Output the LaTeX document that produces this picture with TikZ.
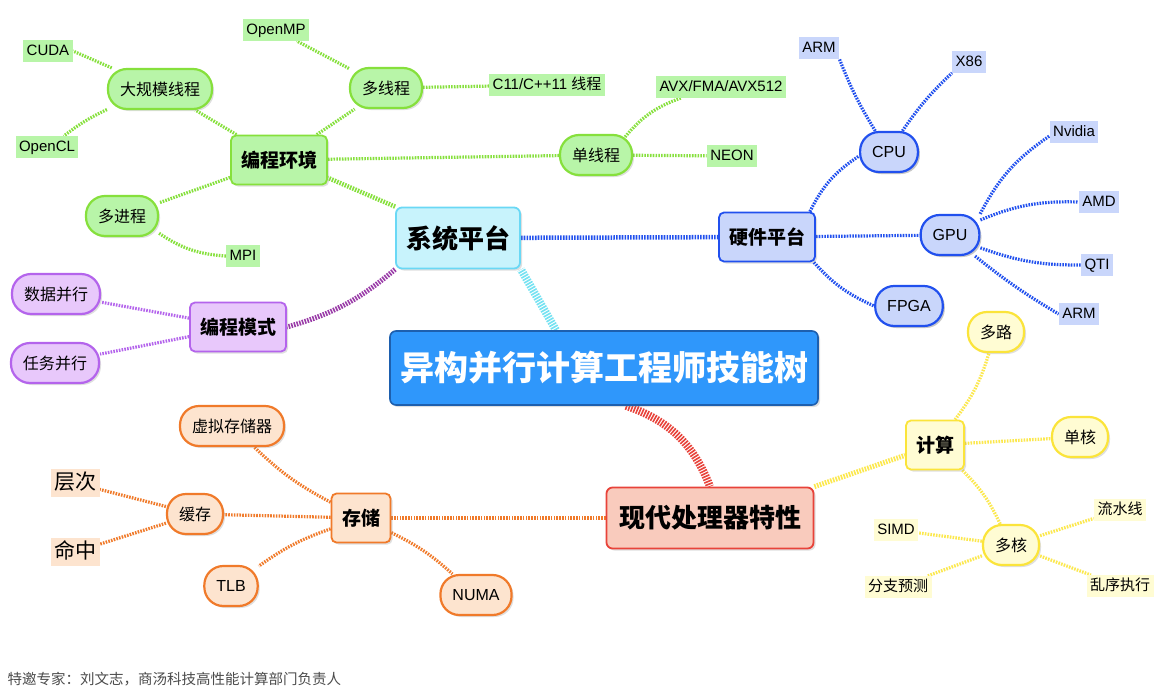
\documentclass[tikz,border=0pt]{standalone}
\usepackage{fontspec}
\setmainfont{Liberation Sans}
\newfontfamily\cjk{Noto Sans CJK SC}
\usepackage{tikz}
\usetikzlibrary{positioning,backgrounds,shadows}

\definecolor{rootfill}{HTML}{2F97FB}
\definecolor{rootline}{HTML}{1D5FAE}
\definecolor{cyanfill}{HTML}{C8F3FC}
\definecolor{cyanline}{HTML}{6AD8F5}
\definecolor{cyanlink}{HTML}{74E2F2}
\definecolor{redfill}{HTML}{F9CBBD}
\definecolor{redline}{HTML}{E8433A}
\definecolor{grnfill}{HTML}{B8F5A8}
\definecolor{grnline}{HTML}{86E03C}
\definecolor{blufill}{HTML}{C9D6FB}
\definecolor{bluline}{HTML}{2150EE}
\definecolor{purfill}{HTML}{E8C8FB}
\definecolor{purline}{HTML}{B464EC}
\definecolor{purlink}{HTML}{9A3CA8}
\definecolor{orgfill}{HTML}{FDE4CF}
\definecolor{orgline}{HTML}{F07A2A}
\definecolor{yelfill}{HTML}{FFFCD3}
\definecolor{yelline}{HTML}{FBE43A}
\definecolor{yellink}{HTML}{FCE84E}

\begin{document}
\begin{tikzpicture}[x=1pt, y=-1pt,
  shade/.style={drop shadow={opacity=0.25, shadow xshift=2pt, shadow yshift=-2pt}},
  root/.style={shade, fill=rootfill, draw=rootline, line width=1.6pt, rounded corners=6pt,
    minimum width=428pt, minimum height=74pt, text=white,
    font=\cjk\bfseries\fontsize{34}{40}\selectfont},
  mainbox/.style={shade, line width=1.8pt, rounded corners=6pt, minimum width=124pt,
    minimum height=61pt, font=\cjk\bfseries\fontsize{26}{30}\selectfont},
  subbox/.style={shade, line width=1.8pt, rounded corners=5pt, minimum width=96pt,
    minimum height=49pt, font=\cjk\bfseries\fontsize{19}{22}\selectfont},
  pill/.style={shade, line width=2.2pt, rounded corners=19pt, minimum height=40pt,
    inner xsep=12pt, font=\cjk\fontsize{16}{18}\selectfont},
  lpill/.style={pill, font=\fontsize{16}{18}\selectfont},
  bpill/.style={pill, fill=blufill, draw=bluline, minimum height=37pt, rounded corners=17pt},
  tag/.style={inner xsep=3.5pt, inner ysep=4pt, text height=11pt, text depth=2.5pt,
    font=\fontsize{15}{17}\selectfont},
  ctag/.style={tag, text height=12pt, text depth=2.5pt, inner ysep=3.5pt,
    font=\cjk\fontsize{15}{17}\selectfont},
  bigtag/.style={ctag, text height=16pt, text depth=4pt, inner ysep=4pt,
    font=\cjk\fontsize{21}{24}\selectfont},
  link/.style={line width=#1, dash pattern=on 1.6pt off 1.2pt},
  link/.default=3.2pt
]

\useasboundingbox (0,0) rectangle (1169,696);

% Centre
\node[root] (root) at (604,368) {异构并行计算工程师技能树};
\node[mainbox, fill=cyanfill, draw=cyanline] (sys) at (458,238) {系统平台};
\node[mainbox, fill=redfill, draw=redline, minimum width=207pt] (cpuf) at (710,518) {现代处理器特性};

% Second level
\node[subbox, fill=grnfill, draw=grnline] (env) at (279,160) {编程环境};
\node[subbox, fill=blufill, draw=bluline] (hw) at (767,237) {硬件平台};
\node[subbox, fill=purfill, draw=purline] (mode) at (238,327) {编程模式};
\node[subbox, fill=orgfill, draw=orgline, minimum width=59pt] (mem) at (361,518) {存储};
\node[subbox, fill=yelfill, draw=yelline, minimum width=58pt] (comp) at (935,445) {计算};

% Programming environment
\node[pill, fill=grnfill, draw=grnline] (big) at (160,89) {大规模线程};
\node[pill, fill=grnfill, draw=grnline] (mt) at (386,88) {多线程};
\node[pill, fill=grnfill, draw=grnline] (st) at (596,155) {单线程};
\node[pill, fill=grnfill, draw=grnline] (mp) at (122,216) {多进程};
\node[tag, fill=grnfill] (cuda) at (48,51) {CUDA};
\node[tag, fill=grnfill] (opencl) at (47,147) {OpenCL};
\node[tag, fill=grnfill] (openmp) at (276,30) {OpenMP};
\node[tag, fill=grnfill] (c11) at (547,85) {C11/C++11 {\cjk 线程}};
\node[tag, fill=grnfill] (avx) at (721,87) {AVX/FMA/AVX512};
\node[tag, fill=grnfill] (neon) at (732,156) {NEON};
\node[tag, fill=grnfill] (mpi) at (243,256) {MPI};

% Hardware
\node[bpill, lpill] (cpu) at (889,152) {CPU};
\node[bpill, lpill] (gpu) at (950,235) {GPU};
\node[bpill, lpill] (fpga) at (909,306) {FPGA};
\node[tag, fill=blufill] (arma) at (819,48) {ARM};
\node[tag, fill=blufill] (x86) at (969,62) {X86};
\node[tag, fill=blufill] (nvidia) at (1074,132) {Nvidia};
\node[tag, fill=blufill] (amd) at (1099,202) {AMD};
\node[tag, fill=blufill] (qti) at (1097,265) {QTI};
\node[tag, fill=blufill] (armb) at (1079,314) {ARM};

% Programming model
\node[pill, fill=purfill, draw=purline] (data) at (56,294) {数据并行};
\node[pill, fill=purfill, draw=purline] (task) at (55,363) {任务并行};

% Memory
\node[pill, fill=orgfill, draw=orgline] (vm) at (232,426) {虚拟存储器};
\node[pill, fill=orgfill, draw=orgline] (cache) at (195,514) {缓存};
\node[lpill, fill=orgfill, draw=orgline] (tlb) at (231,586) {TLB};
\node[lpill, fill=orgfill, draw=orgline] (numa) at (476,595) {NUMA};
\node[bigtag, fill=orgfill] (lvl) at (75,483) {层次};
\node[bigtag, fill=orgfill] (hit) at (75,552) {命中};

% Compute
\node[pill, fill=yelfill, draw=yelline] (multi) at (996,332) {多路};
\node[pill, fill=yelfill, draw=yelline] (single) at (1080,437) {单核};
\node[pill, fill=yelfill, draw=yelline] (mcore) at (1011,545) {多核};
\node[ctag, fill=yelfill] (pipe) at (1120,510) {流水线};
\node[tag, fill=yelfill] (simd) at (896,530) {SIMD};
\node[ctag, fill=yelfill] (branch) at (898,587) {分支预测};
\node[ctag, fill=yelfill] (ooo) at (1120,586) {乱序执行};

% Footer
\node[anchor=west, text=black!70, font=\cjk\fontsize{14.5}{17}\selectfont] (note) at (4,679)
  {特邀专家：刘文志，商汤科技高性能计算部门负责人};

% Links
\begin{pgfonlayer}{background}
\fill[white] (0,0) rectangle (1169,696);
\draw[link=8pt, cyanlink] (root.north -| 556,0) -- (sys.south east);
\draw[link=8pt, redline] ([xshift=22pt]root.south) to[bend left=25] (cpuf.north);
\draw[link=4.5pt, grnline] (sys.north west) -- (env.-20);
\draw[link=4.5pt, bluline] (sys) -- (hw);
\draw[link=5pt, purlink] (sys.south west) to[bend left=12] (mode.east);
\draw[link=4pt, orgline] (cpuf) -- (mem);
\draw[link=5pt, yellink] (cpuf.north east) -- (comp);

\draw[link, grnline] (env) -- (big);
\draw[link, grnline] (env) -- (mt);
\draw[link, grnline] (env) -- (st);
\draw[link, grnline] (env) -- (mp);
\draw[link, grnline] (big) -- (cuda.east);
\draw[link, grnline] (big) to[bend right=6] (opencl);
\draw[link, grnline] (mt) -- (openmp);
\draw[link, grnline] (mt) -- (c11);
\draw[link, grnline] ([xshift=-8pt, yshift=-3pt]st.north east) to[bend left=15] ([xshift=-40pt]avx.south);
\draw[link, grnline] (st) -- (neon);
\draw[link, grnline] (mp.-25) to[bend right=15] (mpi.west);

\draw[link, bluline] ([xshift=-6pt]hw.north east) to[bend left=15] ([yshift=-4pt]cpu.west);
\draw[link, bluline] (hw) -- (gpu);
\draw[link, bluline] ([xshift=-2pt]hw.south east) to[bend right=12] (fpga.west);
\draw[link, bluline] (cpu) to[bend left=5] (arma.south east);
\draw[link, bluline] (cpu) to[bend left=6] (x86.south west);
\draw[link, bluline] (gpu.35) to[bend left=14] ([yshift=-4pt]nvidia.west);
\draw[link, bluline] (gpu) to[bend left=12] (amd.west);
\draw[link, bluline] (gpu) to[bend right=10] (qti.west);
\draw[link, bluline] (gpu) to[bend right=4] (armb.west);

\draw[link, purline] (mode) -- (data);
\draw[link, purline] (mode) -- (task);

\draw[link, orgline] (mem) to[bend left=8] (vm);
\draw[link, orgline] (mem) -- (cache);
\draw[link, orgline] (mem) to[bend right=8] (tlb);
\draw[link, orgline] (mem) to[bend left=8] (numa);
\draw[link, orgline] (cache) -- (lvl);
\draw[link, orgline] (cache) -- (hit);

\draw[link, yellink] (comp) to[bend right=10] (multi);
\draw[link, yellink] (comp) -- (single);
\draw[link, yellink] (comp) to[bend left=10] (mcore);
\draw[link, yellink] (mcore) -- (pipe);
\draw[link, yellink] (mcore) -- (simd);
\draw[link, yellink] (mcore) -- (branch);
\draw[link, yellink] (mcore) -- (ooo);
\end{pgfonlayer}

\end{tikzpicture}
\end{document}
